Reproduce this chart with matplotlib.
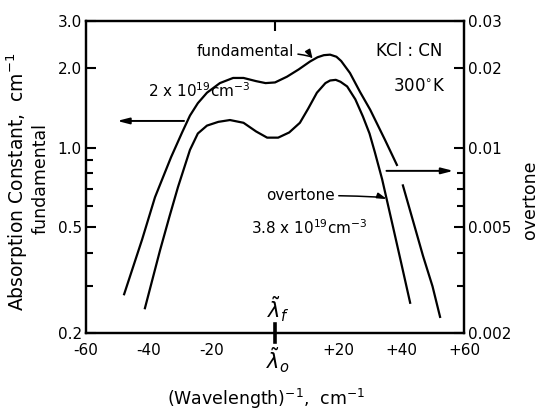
import numpy as np
import matplotlib.pyplot as plt
import matplotlib.transforms as mtransforms

# inverse wavelength offset (cm^-1) and absorption constant, fundamental band
fund_k = [-47.9, -42.2, -38.1, -33.0, -29.5, -27.0, -24.5, -21.6, -17.5, -13.3, -10.0,
          -6.0, -3.0, 0.0, 3.8, 7.5, 11.1, 13.5, 15.5, 17.5, 19.5, 21.0, 23.8,
          27.0, 30.2, 34.9, 38.7, np.nan, 40.6, 44.0, 47.0, 50.0, 52.4]
fund_a = [0.28, 0.45, 0.65, 0.92, 1.14, 1.32, 1.47, 1.61, 1.75, 1.83, 1.83,
          1.78, 1.75, 1.76, 1.85, 1.97, 2.11, 2.19, 2.23, 2.24, 2.20, 2.12, 1.91,
          1.62, 1.39, 1.07, 0.86, np.nan, 0.72, 0.52, 0.39, 0.30, 0.23]

# overtone band, read on the right-hand scale
over_k = [-41.3, -36.5, -33.5, -30.8, -27.0, -24.5, -21.6, -18.0, -14.3, -10.0,
          -6.0, -2.5, 1.0, 4.5, 7.9, 10.5, 13.3, 16.0, 17.5, 19.3, 20.8, 22.9,
          25.5, 27.9, 30.0, 31.7, 34.0, 37.5, 40.0, 42.9]
over_a = [0.00248, 0.0041, 0.0055, 0.0071, 0.0098, 0.0113, 0.0121, 0.0125, 0.0127, 0.0124,
          0.0115, 0.0109, 0.0109, 0.0114, 0.0124, 0.0140, 0.0161, 0.0175, 0.0179, 0.0180,
          0.0177, 0.0170, 0.0152, 0.0131, 0.0113, 0.0096, 0.0076, 0.0050, 0.0037, 0.0026]

xticks = [-60, -40, -20, 20, 40, 60]
xticklabels = ['-60', '-40', '-20', '+20', '+40', '+60']
lticks = [0.2, 0.5, 1.0, 2.0, 3.0]
lticklabels = ['0.2', '0.5', '1.0', '2.0', '3.0']
lminor = [0.3, 0.4, 0.6, 0.7, 0.8, 0.9]
rticks = [0.002, 0.005, 0.01, 0.02, 0.03]
rticklabels = ['0.002', '0.005', '0.01', '0.02', '0.03']
rminor = [0.003, 0.004, 0.006, 0.007, 0.008]

plt.rcParams['font.family'] = 'DejaVu Sans'

fig = plt.figure(figsize=(5.42, 4.11), dpi=100)
ax = fig.add_axes([0.1587, 0.1898, 0.6974, 0.7591])
ax2 = ax.twinx()

ax.plot(fund_k, fund_a, color='black', lw=1.6)
ax2.plot(over_k, over_a, color='black', lw=1.6)

ax.set_xlim(-60, 60)
ax.set_yscale('log')
ax.set_ylim(0.2, 3.0)
ax2.set_yscale('log')
ax2.set_ylim(0.002, 0.03)

ax.set_xticks(xticks, labels=xticklabels)
ax.set_xticks([-40, -20, 0, 20, 40], minor=True)
ax.set_yticks(lticks, labels=lticklabels)
ax.set_yticks(lminor, labels=[''] * len(lminor), minor=True)
ax2.set_yticks(rticks, labels=rticklabels)
ax2.set_yticks(rminor, labels=[''] * len(rminor), minor=True)

ax.tick_params(axis='x', which='major', direction='in', length=0, pad=7, labelsize=11)
ax.tick_params(axis='x', which='minor', direction='in', length=7, width=1.5,
               top=True, bottom=True)
ax.tick_params(axis='y', which='major', direction='in', length=7, width=1.5,
               pad=3, labelsize=11)
ax.tick_params(axis='y', which='minor', direction='in', length=5, width=1.5)
ax2.tick_params(axis='y', which='major', direction='in', length=7, width=1.5,
                pad=3, labelsize=11)
ax2.tick_params(axis='y', which='minor', direction='in', length=5, width=1.5)

for a in (ax, ax2):
    for sp in a.spines.values():
        sp.set_linewidth(1.6)

# heavier mark at the band centre, with the two centre labels
ax.axvline(0, ymin=-0.028, ymax=0.028, color='black', lw=2.6, clip_on=False)
trans = mtransforms.blended_transform_factory(ax.transData, ax.transAxes)
ax.text(1.0, 0.028, r'$\tilde{\lambda}_f$', transform=trans,
        ha='center', va='bottom', fontsize=15)
ax.text(1.0, -0.04, r'$\tilde{\lambda}_o$', transform=trans,
        ha='center', va='top', fontsize=15)

# arrows pointing to the scale each curve belongs to
ax.annotate('', xy=(-51, 1.26), xytext=(-28, 1.26),
            arrowprops=dict(arrowstyle='-|>,head_length=0.7,head_width=0.18',
                            color='black', lw=1.4))
ax.annotate('', xy=(57.5, 0.817), xytext=(34.5, 0.817),
            arrowprops=dict(arrowstyle='-|>,head_length=0.7,head_width=0.18',
                            color='black', lw=1.4), annotation_clip=False)

ax.text(-24, 1.64, r'2 x 10$^{19}$cm$^{-3}$', ha='center', va='center', fontsize=11)
ax.annotate('fundamental', xy=(12, 2.15), xytext=(-9.5, 2.30),
            ha='center', va='center', fontsize=11,
            arrowprops=dict(arrowstyle='-|>,head_length=0.5,head_width=0.15',
                            color='black', lw=1.1,
                            connectionstyle='angle3,angleA=0,angleB=-60',
                            shrinkA=1, shrinkB=0))
ax.annotate('overtone', xy=(35.5, 0.64), xytext=(8, 0.66),
            ha='center', va='center', fontsize=11,
            arrowprops=dict(arrowstyle='-|>,head_length=0.5,head_width=0.15',
                            color='black', lw=1.1,
                            connectionstyle='angle3,angleA=0,angleB=-20',
                            shrinkA=1, shrinkB=0))
ax.text(11, 0.50, r'3.8 x 10$^{19}$cm$^{-3}$', ha='center', va='center', fontsize=11)
ax.text(42.5, 2.32, 'KCl : CN', ha='center', va='center', fontsize=12)
ax.text(46, 1.71, r'300$^{\circ}$K', ha='center', va='center', fontsize=12)

fig.text(17 / 542, 1 - 182 / 411, r'Absorption Constant,  cm$^{-1}$',
         rotation=90, ha='center', va='center', fontsize=13.5)
fig.text(41 / 542, 1 - 178 / 411, 'fundamental',
         rotation=90, ha='center', va='center', fontsize=12.5)
fig.text(530 / 542, 1 - 200 / 411, 'overtone',
         rotation=90, ha='center', va='center', fontsize=12.5)
fig.text(266 / 542, 1 - 399 / 411, r'(Wavelength)$^{-1}$,  cm$^{-1}$',
         ha='center', va='center', fontsize=12.5)

fig.savefig('out.png', dpi=100)
